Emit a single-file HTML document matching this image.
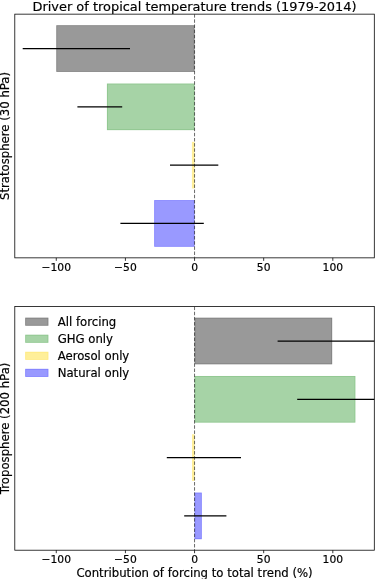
<!DOCTYPE html>
<html lang="en">
<head>
<meta charset="utf-8">
<title>Driver of tropical temperature trends (1979-2014)</title>
<style>
html,body{margin:0;padding:0;background:#fff;}
body{width:375px;height:579px;overflow:hidden;}
svg{display:block;}
text{font-family:'DejaVu Sans','Liberation Sans',sans-serif;fill:#000;stroke:#000;stroke-width:0.18px;}
.tick{font-size:10.73px;}
.lab{font-size:11.7px;}
.title{font-size:12.93px;}
</style>
</head>
<body>
<svg width="375" height="579" viewBox="0 0 375 579">
<rect x="0" y="0" width="375" height="579" fill="#ffffff"/>
<defs>
<clipPath id="c1"><rect x="14.8" y="14.15" width="359.50" height="243.70"/></clipPath>
<clipPath id="c2"><rect x="14.8" y="306.6" width="359.50" height="243.70"/></clipPath>
</defs>

<g clip-path="url(#c1)">
<rect x="56.28" y="25.23" width="138.27" height="46.64" fill="#000000" fill-opacity="0.4"/>
<rect x="56.78" y="25.73" width="137.27" height="45.64" fill="none" stroke="#000000" stroke-opacity="0.180" stroke-width="0.7"/>
<rect x="106.90" y="83.53" width="87.65" height="46.64" fill="#008000" fill-opacity="0.35"/>
<rect x="107.40" y="84.03" width="86.65" height="45.64" fill="none" stroke="#008000" stroke-opacity="0.158" stroke-width="0.7"/>
<rect x="191.90" y="141.83" width="2.65" height="46.64" fill="#ffd700" fill-opacity="0.4"/>
<rect x="154.20" y="200.13" width="40.35" height="46.64" fill="#0000ff" fill-opacity="0.4"/>
<rect x="154.70" y="200.63" width="39.35" height="45.64" fill="none" stroke="#0000ff" stroke-opacity="0.180" stroke-width="0.7"/>
<line x1="22.70" y1="48.55" x2="130.00" y2="48.55" stroke="#000" stroke-width="1.25"/>
<line x1="77.40" y1="106.85" x2="122.20" y2="106.85" stroke="#000" stroke-width="1.25"/>
<line x1="170.00" y1="165.15" x2="218.30" y2="165.15" stroke="#000" stroke-width="1.25"/>
<line x1="120.40" y1="223.45" x2="203.80" y2="223.45" stroke="#000" stroke-width="1.25"/>
<line x1="194.55" y1="14.15" x2="194.55" y2="257.85" stroke="#000" stroke-opacity="0.7" stroke-width="0.85" stroke-dasharray="3.5 1.66"/>
</g>
<rect x="14.8" y="14.15" width="359.50" height="243.70" fill="none" stroke="#000" stroke-width="0.78"/>
<line x1="56.28" y1="257.85" x2="56.28" y2="260.85" stroke="#000" stroke-width="0.78"/>
<text class="tick" x="56.28" y="270.80" text-anchor="middle">−100</text>
<line x1="125.42" y1="257.85" x2="125.42" y2="260.85" stroke="#000" stroke-width="0.78"/>
<text class="tick" x="125.42" y="270.80" text-anchor="middle">−50</text>
<line x1="194.55" y1="257.85" x2="194.55" y2="260.85" stroke="#000" stroke-width="0.78"/>
<text class="tick" x="194.55" y="270.80" text-anchor="middle">0</text>
<line x1="263.68" y1="257.85" x2="263.68" y2="260.85" stroke="#000" stroke-width="0.78"/>
<text class="tick" x="263.68" y="270.80" text-anchor="middle">50</text>
<line x1="332.82" y1="257.85" x2="332.82" y2="260.85" stroke="#000" stroke-width="0.78"/>
<text class="tick" x="332.82" y="270.80" text-anchor="middle">100</text>
<g clip-path="url(#c2)">
<rect x="194.55" y="317.68" width="137.65" height="46.64" fill="#000000" fill-opacity="0.4"/>
<rect x="195.05" y="318.18" width="136.65" height="45.64" fill="none" stroke="#000000" stroke-opacity="0.180" stroke-width="0.7"/>
<rect x="194.55" y="375.98" width="160.85" height="46.64" fill="#008000" fill-opacity="0.35"/>
<rect x="195.05" y="376.48" width="159.85" height="45.64" fill="none" stroke="#008000" stroke-opacity="0.158" stroke-width="0.7"/>
<rect x="192.00" y="434.28" width="2.55" height="46.64" fill="#ffd700" fill-opacity="0.4"/>
<rect x="194.55" y="492.58" width="7.25" height="46.64" fill="#0000ff" fill-opacity="0.4"/>
<rect x="195.05" y="493.08" width="6.25" height="45.64" fill="none" stroke="#0000ff" stroke-opacity="0.180" stroke-width="0.7"/>
<line x1="277.60" y1="341.00" x2="471.09" y2="341.00" stroke="#000" stroke-width="1.25"/>
<line x1="297.20" y1="399.30" x2="471.09" y2="399.30" stroke="#000" stroke-width="1.25"/>
<line x1="166.80" y1="457.60" x2="241.00" y2="457.60" stroke="#000" stroke-width="1.25"/>
<line x1="184.20" y1="515.90" x2="226.40" y2="515.90" stroke="#000" stroke-width="1.25"/>
<line x1="194.55" y1="306.6" x2="194.55" y2="550.2" stroke="#000" stroke-opacity="0.7" stroke-width="0.85" stroke-dasharray="3.5 1.66"/>
</g>
<rect x="14.8" y="306.6" width="359.50" height="243.60" fill="none" stroke="#000" stroke-width="0.78"/>
<line x1="56.28" y1="550.2" x2="56.28" y2="553.20" stroke="#000" stroke-width="0.78"/>
<text class="tick" x="56.28" y="563.15" text-anchor="middle">−100</text>
<line x1="125.42" y1="550.2" x2="125.42" y2="553.20" stroke="#000" stroke-width="0.78"/>
<text class="tick" x="125.42" y="563.15" text-anchor="middle">−50</text>
<line x1="194.55" y1="550.2" x2="194.55" y2="553.20" stroke="#000" stroke-width="0.78"/>
<text class="tick" x="194.55" y="563.15" text-anchor="middle">0</text>
<line x1="263.68" y1="550.2" x2="263.68" y2="553.20" stroke="#000" stroke-width="0.78"/>
<text class="tick" x="263.68" y="563.15" text-anchor="middle">50</text>
<line x1="332.82" y1="550.2" x2="332.82" y2="553.20" stroke="#000" stroke-width="0.78"/>
<text class="tick" x="332.82" y="563.15" text-anchor="middle">100</text>
<text class="title" x="194.55" y="10.5" text-anchor="middle">Driver of tropical temperature trends (1979-2014)</text>
<text class="lab" x="194.55" y="576.5" text-anchor="middle">Contribution of forcing to total trend (%)</text>
<text class="lab" transform="translate(9.1 136.00) rotate(-90)" text-anchor="middle">Stratosphere (30 hPa)</text>
<text class="lab" transform="translate(9.1 428.40) rotate(-90)" text-anchor="middle">Troposphere (200 hPa)</text>
<rect x="25.2" y="317.65" width="23.2" height="8.1" fill="#000000" fill-opacity="0.4"/>
<rect x="25.7" y="318.15" width="22.2" height="7.1" fill="none" stroke="#000000" stroke-opacity="0.180" stroke-width="0.7"/>
<text class="lab" x="57.7" y="325.90">All forcing</text>
<rect x="25.2" y="334.70" width="23.2" height="8.1" fill="#008000" fill-opacity="0.35"/>
<rect x="25.7" y="335.20" width="22.2" height="7.1" fill="none" stroke="#008000" stroke-opacity="0.158" stroke-width="0.7"/>
<text class="lab" x="57.7" y="342.95">GHG only</text>
<rect x="25.2" y="351.75" width="23.2" height="8.1" fill="#ffd700" fill-opacity="0.4"/>
<rect x="25.7" y="352.25" width="22.2" height="7.1" fill="none" stroke="#ffd700" stroke-opacity="0.180" stroke-width="0.7"/>
<text class="lab" x="57.7" y="360.00">Aerosol only</text>
<rect x="25.2" y="368.80" width="23.2" height="8.1" fill="#0000ff" fill-opacity="0.4"/>
<rect x="25.7" y="369.30" width="22.2" height="7.1" fill="none" stroke="#0000ff" stroke-opacity="0.180" stroke-width="0.7"/>
<text class="lab" x="57.7" y="377.05">Natural only</text>
</svg>
</body>
</html>
